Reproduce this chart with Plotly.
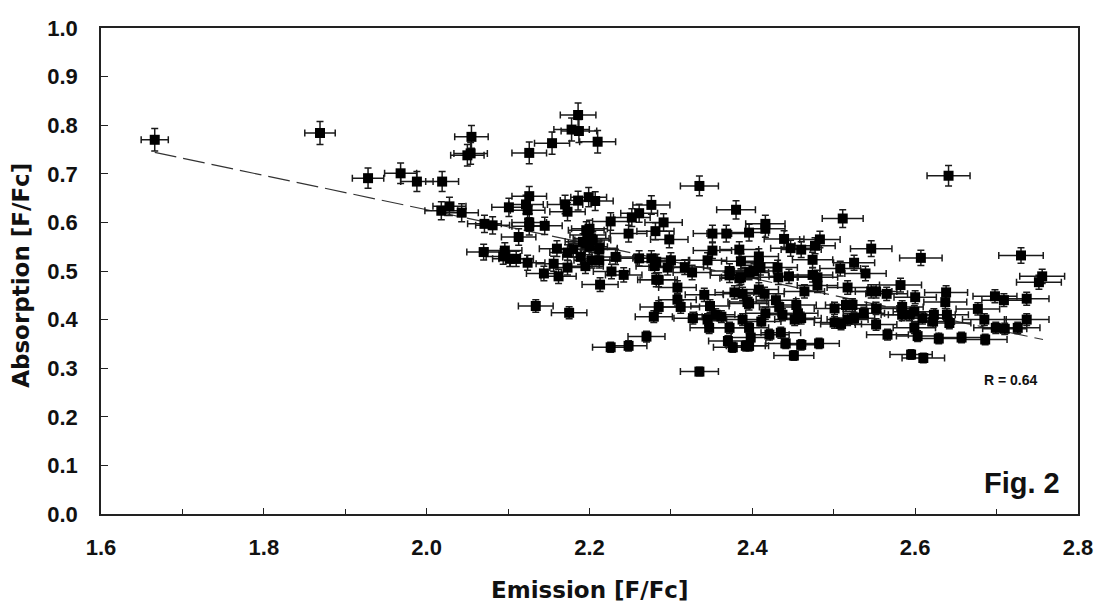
import plotly.graph_objects as go

# Emission [F/Fc] (x) and Absorption [F/Fc] (y) values
emission = [
    1.666, 1.869, 1.928, 1.968, 1.988, 2.019, 2.055, 2.050, 2.054, 2.126,
    2.154, 2.178, 2.186, 2.187, 2.210, 2.335, 2.380, 2.641, 2.018, 2.028,
    2.043, 2.071, 2.081, 2.101, 2.122, 2.126, 2.124, 2.126, 2.126, 2.145,
    2.113, 2.170, 2.173, 2.186, 2.199, 2.207, 2.200, 2.198, 2.202, 2.196,
    2.200, 2.196, 2.192, 2.204, 2.212, 2.226, 2.248, 2.252, 2.261, 2.276,
    2.291, 2.281, 2.298, 2.070, 2.096, 2.094, 2.102, 2.110, 2.124, 2.144,
    2.162, 2.160, 2.173, 2.180, 2.189, 2.195, 2.203, 2.212, 2.212, 2.232,
    2.227, 2.242, 2.173, 2.156, 2.213, 2.261, 2.276, 2.282, 2.300, 2.280,
    2.296, 2.317, 2.326, 2.282, 2.285, 2.308, 2.308, 2.312, 2.285, 2.279,
    2.327, 2.341, 2.348, 2.345, 2.347, 2.355, 2.362, 2.351, 2.368, 2.351,
    2.345, 2.384, 2.386, 2.372, 2.372, 2.384, 2.378, 2.388, 2.394, 2.388,
    2.134, 2.175, 2.270, 2.226, 2.248, 2.370, 2.376, 2.335, 2.392, 2.511,
    2.416, 2.416, 2.396, 2.439, 2.447, 2.460, 2.477, 2.483, 2.546, 2.607,
    2.730, 2.386, 2.408, 2.408, 2.410, 2.431, 2.474, 2.508, 2.525, 2.539,
    2.474, 2.480, 2.480, 2.445, 2.432, 2.396, 2.402, 2.517, 2.464, 2.582,
    2.546, 2.552, 2.565, 2.600, 2.638, 2.637, 2.698, 2.709, 2.737, 2.756,
    2.752, 2.408, 2.415, 2.429, 2.396, 2.433, 2.416, 2.454, 2.456, 2.460,
    2.452, 2.437, 2.501, 2.515, 2.523, 2.501, 2.509, 2.517, 2.525, 2.537,
    2.552, 2.552, 2.566, 2.584, 2.584, 2.593, 2.599, 2.609, 2.599, 2.603,
    2.623, 2.622, 2.639, 2.642, 2.629, 2.657, 2.686, 2.677, 2.685, 2.699,
    2.710, 2.726, 2.737, 2.595, 2.610, 2.451, 2.441, 2.460, 2.482, 2.421,
    2.435, 2.398, 2.396, 2.411, 2.396, 2.372,
]
absorption = [
    0.770, 0.784, 0.691, 0.701, 0.684, 0.684, 0.776, 0.738, 0.742, 0.743,
    0.763, 0.791, 0.821, 0.788, 0.766, 0.675, 0.626, 0.696, 0.624, 0.633,
    0.620, 0.597, 0.594, 0.631, 0.637, 0.654, 0.625, 0.600, 0.592, 0.593,
    0.570, 0.637, 0.622, 0.645, 0.652, 0.644, 0.587, 0.574, 0.567, 0.557,
    0.550, 0.584, 0.560, 0.564, 0.547, 0.602, 0.577, 0.610, 0.619, 0.636,
    0.600, 0.582, 0.565, 0.539, 0.542, 0.530, 0.525, 0.525, 0.517, 0.495,
    0.489, 0.546, 0.538, 0.545, 0.529, 0.510, 0.522, 0.522, 0.544, 0.529,
    0.499, 0.492, 0.507, 0.515, 0.472, 0.526, 0.526, 0.519, 0.522, 0.510,
    0.507, 0.508, 0.497, 0.482, 0.482, 0.466, 0.441, 0.426, 0.426, 0.406,
    0.403, 0.451, 0.428, 0.400, 0.383, 0.410, 0.406, 0.577, 0.577, 0.542,
    0.522, 0.544, 0.520, 0.500, 0.491, 0.485, 0.456, 0.453, 0.436, 0.400,
    0.428, 0.414, 0.365, 0.343, 0.346, 0.356, 0.343, 0.293, 0.346, 0.608,
    0.597, 0.587, 0.579, 0.566, 0.547, 0.544, 0.552, 0.565, 0.546, 0.527,
    0.532, 0.487, 0.530, 0.517, 0.507, 0.507, 0.523, 0.505, 0.517, 0.495,
    0.492, 0.487, 0.470, 0.489, 0.487, 0.497, 0.500, 0.466, 0.458, 0.471,
    0.458, 0.458, 0.453, 0.446, 0.456, 0.436, 0.448, 0.440, 0.443, 0.489,
    0.477, 0.462, 0.453, 0.440, 0.433, 0.426, 0.413, 0.430, 0.413, 0.403,
    0.400, 0.410, 0.423, 0.430, 0.430, 0.394, 0.391, 0.400, 0.403, 0.413,
    0.423, 0.390, 0.369, 0.426, 0.410, 0.410, 0.416, 0.403, 0.383, 0.366,
    0.410, 0.396, 0.410, 0.393, 0.361, 0.363, 0.359, 0.422, 0.400, 0.383,
    0.381, 0.383, 0.400, 0.328, 0.321, 0.326, 0.351, 0.348, 0.351, 0.369,
    0.373, 0.363, 0.346, 0.396, 0.383, 0.383,
]

# relative measurement uncertainties (percent of value)
emission_err_pct = 1.0
absorption_err_pct = 3.0

# regression line end points
fit_x = [1.666, 2.757]
fit_y = [0.744, 0.359]

x_ticks = [1.6, 1.8, 2.0, 2.2, 2.4, 2.6, 2.8]
y_ticks = [0.0, 0.1, 0.2, 0.3, 0.4, 0.5, 0.6, 0.7, 0.8, 0.9, 1.0]

FONT = "Liberation Sans, Arial, sans-serif"
TITLE_FONT = "DejaVu Sans, Liberation Sans, Arial, sans-serif"

fig = go.Figure()
fig.add_trace(go.Scatter(
    x=fit_x, y=fit_y, mode="lines",
    line=dict(color="#333333", width=1.2, dash="22px,7px"),
    showlegend=False, hoverinfo="skip",
))
fig.add_trace(go.Scatter(
    x=emission, y=absorption, mode="markers",
    marker=dict(symbol="square", size=10, color="black", line=dict(width=0)),
    error_x=dict(type="percent", value=emission_err_pct, color="#1a1a1a",
                 thickness=1.5, width=3.5),
    error_y=dict(type="percent", value=absorption_err_pct, color="#1a1a1a",
                 thickness=1.5, width=3.5),
    showlegend=False,
))

axis_common = dict(
    showline=True, linecolor="#222222", linewidth=1.5, mirror=True,
    showgrid=False, zeroline=False, ticks="inside", tickcolor="#222222",
    tickwidth=1.2, tickformat=".1f", ticklabeloverflow="allow",
    tickfont=dict(family=FONT, size=22, color="#111111", weight="bold"),
)

fig.update_xaxes(
    range=[1.6, 2.8], tickvals=x_ticks, ticklen=6, ticklabelstandoff=13,
    minor=dict(dtick=0.1, tick0=1.6, ticks="inside", ticklen=5,
               tickcolor="#222222", tickwidth=1.2, showgrid=False),
    **axis_common,
)
fig.update_yaxes(
    range=[0, 1.0], tickvals=y_ticks, ticklen=7, ticklabelstandoff=17,
    **axis_common,
)

fig.add_annotation(
    text="Emission [F/Fc]", xref="paper", yref="paper", x=0.5, y=0,
    yshift=-76, showarrow=False, xanchor="center", yanchor="middle",
    font=dict(family=TITLE_FONT, size=23, color="#111111", weight="bold"),
)
fig.add_annotation(
    text="Absorption [F/Fc]", xref="paper", yref="paper", x=0, y=0.49,
    xshift=-80, showarrow=False, xanchor="center", yanchor="middle",
    textangle=-90,
    font=dict(family=TITLE_FONT, size=23, color="#111111", weight="bold"),
)
fig.add_annotation(
    text="R = 0.64", x=2.718, y=0.275, showarrow=False,
    xanchor="center", yanchor="middle",
    font=dict(family=FONT, size=14, color="#111111", weight="bold"),
)
fig.add_annotation(
    text="Fig. 2", x=2.731, y=0.064, showarrow=False,
    xanchor="center", yanchor="middle",
    font=dict(family=FONT, size=29, color="#111111", weight="bold"),
)

# the page body adds an 8px margin, so the figure is offset to compensate
fig.update_layout(
    width=1097, height=598,
    margin=dict(l=93, r=27, t=8, b=92),
    plot_bgcolor="white", paper_bgcolor="white",
    showlegend=False,
)

fig.write_html("out.html")
